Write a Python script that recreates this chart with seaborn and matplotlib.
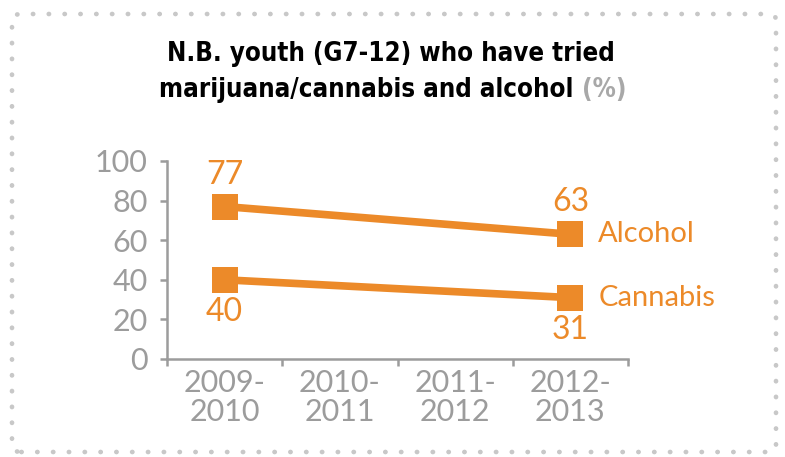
import matplotlib
matplotlib.use("Agg")
import matplotlib.pyplot as plt
from matplotlib.patches import FancyBboxPatch
from matplotlib.ticker import FixedLocator
import seaborn as sns
import pandas as pd

# School-year periods on the x axis
periods = ["2009-\n2010", "2010-\n2011", "2011-\n2012", "2012-\n2013"]
# Surveyed years and the share who have tried each substance (%)
survey_periods = ["2009-\n2010", "2012-\n2013"]
alcohol = [77, 63]
cannabis = [40, 31]
y_ticks = [0, 20, 40, 60, 80, 100]

ORANGE = "#EC8A29"
GREY = "#9C9C9C"

rows = []
for name, vals in (("Alcohol", alcohol), ("Cannabis", cannabis)):
    for p, v in zip(survey_periods, vals):
        rows.append({"period": p, "pos": periods.index(p), "value": v, "series": name})
df = pd.DataFrame(rows)

sns.set_theme(style="white")
plt.rcParams["font.family"] = ["Lato", "DejaVu Sans"]

fig = plt.figure(figsize=(7.85, 4.57), dpi=100)
ax = fig.add_axes([167 / 785, 1 - 359 / 457, (628 - 167) / 785, (359 - 161) / 457])

sns.lineplot(data=df, x="pos", y="value", units="series", estimator=None,
             color=ORANGE, lw=5.5, marker="s", markersize=19, markeredgewidth=0,
             ax=ax, legend=False)

ax.set_xlim(-0.5, len(periods) - 0.5)
ax.set_ylim(0, 100)
ax.set_xticks(range(len(periods)))
ax.set_xticklabels(periods, fontsize=22, color=GREY, linespacing=1.05)
ax.xaxis.set_minor_locator(FixedLocator([i - 0.5 for i in range(len(periods) + 1)]))
ax.set_yticks(y_ticks)
ax.set_yticklabels([str(t) for t in y_ticks], fontsize=22, color=GREY)
ax.tick_params(axis="x", which="major", length=0, pad=7)
ax.tick_params(axis="x", which="minor", length=5, width=1.8, color=GREY, direction="out", bottom=True)
ax.tick_params(axis="y", which="major", length=5, width=1.8, color=GREY, direction="out", left=True, pad=9)
ax.set_xlabel("")
ax.set_ylabel("")
for side in ("top", "right"):
    ax.spines[side].set_visible(False)
for side in ("left", "bottom"):
    ax.spines[side].set_color(GREY)
    ax.spines[side].set_linewidth(1.8)

# value labels: above for alcohol, below for cannabis
for _, r in df.iterrows():
    dy = 23 if r["series"] == "Alcohol" else -23
    ax.annotate(str(r["value"]), (r["pos"], r["value"]), xytext=(0, dy),
                textcoords="offset points", ha="center", va="center",
                fontsize=23, color=ORANGE)

# series names to the right of the last point
last = df[df["pos"] == df["pos"].max()]
for _, r in last.iterrows():
    ax.annotate(r["series"], (r["pos"], r["value"]), xytext=(20, 0),
                textcoords="offset points", ha="left", va="center",
                fontsize=21, color=ORANGE, annotation_clip=False)

# two-line title with the unit in grey
title_kw = dict(fontsize=18.5, fontweight="bold", family="DejaVu Sans", fontstretch="condensed")
fig.text(0.498, 1 - 54 / 457, "N.B. youth (G7-12) who have tried", ha="center", va="center",
         color="black", **title_kw)
t2 = fig.text(0.472, 1 - 90 / 457, "marijuana/cannabis and alcohol ", ha="center", va="center",
              color="black", **title_kw)
fig.canvas.draw()
bb = t2.get_window_extent()
fig.text(bb.x1 / fig.bbox.width, 1 - 90 / 457, "(%)", ha="left", va="center",
         color="#A8A8A8", **title_kw)

# dotted rounded frame
frame = FancyBboxPatch((12 / 785, 5 / 457), (776 - 12) / 785, (443 - 5) / 457,
                       boxstyle="round,pad=0,rounding_size=0.012",
                       transform=fig.transFigure, fill=False, edgecolor="#C8C8C8",
                       linewidth=3.4, linestyle=(0, (0.05, 3.3)), capstyle="round")
fig.patches.append(frame)

fig.savefig("out.png", dpi=100)
